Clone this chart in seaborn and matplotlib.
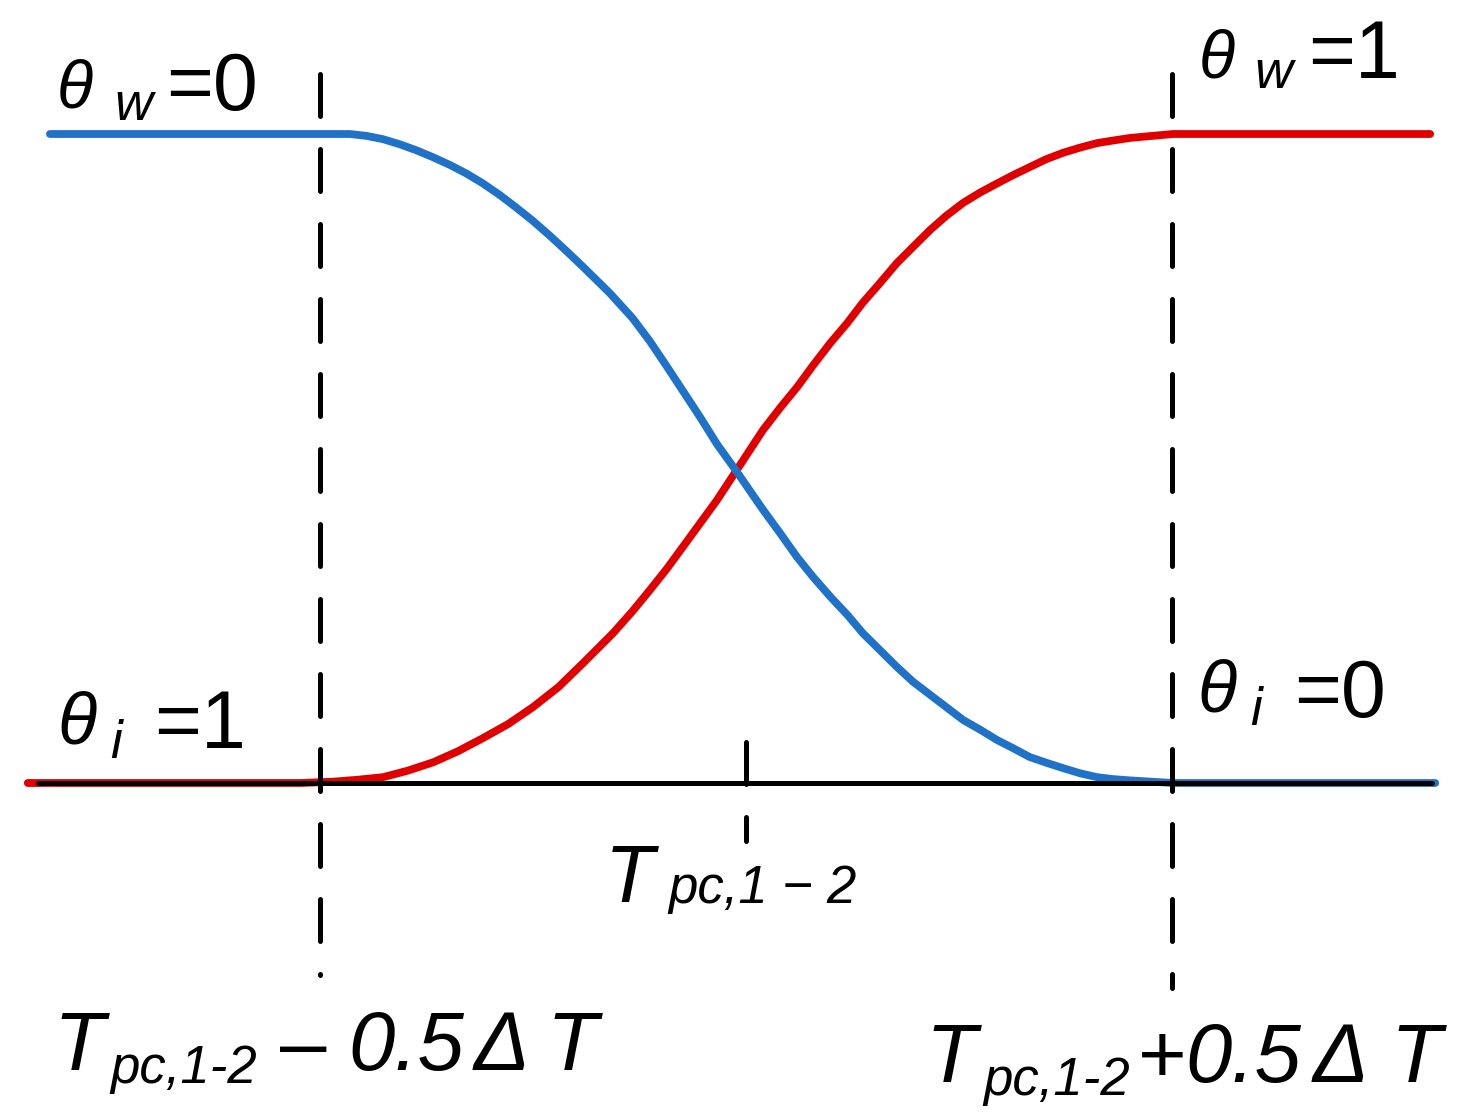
import pandas as pd
import matplotlib.pyplot as plt
import seaborn as sns

sns.set_style("white")
plt.rcParams['font.family'] = ['Liberation Sans', 'DejaVu Sans']
plt.rcParams['text.color'] = 'black'

# x in units of delta T, measured from T_pc,1-2 ; y is the fraction theta
blue_x = [-0.817, -0.500, -0.465, -0.445, -0.426, -0.406, -0.387, -0.367, -0.347, -0.328,
          -0.309, -0.289, -0.270, -0.250, -0.230, -0.211, -0.191, -0.160, -0.133, -0.113,
          -0.093, -0.074, -0.054, -0.034, -0.011, 0.020, 0.040, 0.060, 0.079, 0.099,
          0.119, 0.137, 0.157, 0.177, 0.196, 0.216, 0.236, 0.255, 0.275, 0.295,
          0.313, 0.333, 0.353, 0.372, 0.392, 0.412, 0.431, 0.451, 0.501, 0.809]
blue_y = [1.000, 1.000, 1.000, 0.997, 0.992, 0.984, 0.975, 0.964, 0.952, 0.939,
          0.924, 0.906, 0.887, 0.866, 0.843, 0.820, 0.795, 0.755, 0.716, 0.681,
          0.642, 0.604, 0.564, 0.522, 0.480, 0.421, 0.385, 0.348, 0.317, 0.287,
          0.259, 0.231, 0.205, 0.179, 0.156, 0.136, 0.116, 0.097, 0.082, 0.066,
          0.054, 0.040, 0.031, 0.023, 0.015, 0.009, 0.006, 0.004, 0.000, 0.000]
red_x = [-0.843, -0.523, -0.485, -0.456, -0.426, -0.397, -0.367, -0.338, -0.309, -0.279,
         -0.250, -0.220, -0.191, -0.156, -0.133, -0.113, -0.093, -0.074, -0.054, -0.034,
         -0.015, 0.020, 0.040, 0.060, 0.079, 0.099, 0.119, 0.137, 0.157, 0.177,
         0.196, 0.216, 0.235, 0.255, 0.275, 0.295, 0.314, 0.333, 0.352, 0.372,
         0.392, 0.412, 0.431, 0.451, 0.501, 0.803]
red_y = [0.000, 0.000, 0.002, 0.005, 0.009, 0.019, 0.032, 0.049, 0.069, 0.091,
         0.117, 0.148, 0.185, 0.231, 0.265, 0.297, 0.330, 0.364, 0.400, 0.436,
         0.474, 0.544, 0.578, 0.610, 0.644, 0.678, 0.709, 0.740, 0.770, 0.801,
         0.826, 0.852, 0.874, 0.894, 0.910, 0.924, 0.937, 0.949, 0.961, 0.971,
         0.979, 0.986, 0.990, 0.994, 1.000, 1.000]
base_x = [-0.831, 0.805]
bounds_x = [-0.5, 0.5]
bounds_bottom = [-0.296, -0.316]
center_x = 0.0

W, H = 1459, 1115
fig = plt.figure(figsize=(W / 100, H / 100), dpi=100)
ax = fig.add_axes([0, 0, 1, 1])

red_df = pd.DataFrame({'x': red_x, 'y': red_y})
blue_df = pd.DataFrame({'x': blue_x, 'y': blue_y})
sns.lineplot(data=red_df, x='x', y='y', sort=False, estimator=None, color='#E00000',
             lw=5.6, solid_capstyle='round', solid_joinstyle='round', ax=ax)
sns.lineplot(data=blue_df, x='x', y='y', sort=False, estimator=None, color='#1F72C8',
             lw=5.6, solid_capstyle='round', solid_joinstyle='round', ax=ax)
ax.plot(base_x, [0, 0], color='black', lw=3.6, solid_capstyle='round')

dash = dict(color='black', lw=3.6, dashes=(8.4, 6.6), dash_capstyle='round')
for bx, bb in zip(bounds_x, bounds_bottom):
    ax.plot([bx, bx], [1.092, bb], **dash)
ax.plot([center_x, center_x], [0.063, -0.089], **dash)

ax.set_xlim(-746 / 852, (W - 746) / 852)
ax.set_ylim((783 - H) / 649, 783 / 649)
ax.axis('off')


def put(px, py, s, size, italic=True):
    fig.text(px / W, 1 - py / H, s, fontsize=size, ha='left', va='baseline',
             style='italic' if italic else 'normal', color='black')


# theta labels
put(57, 107, 'θ', 48)
put(114, 120, 'w', 38)
put(166, 110, '=0', 58, italic=False)

put(1199, 77, 'θ', 48)
put(1254, 88, 'w', 38)
put(1308, 78, '=1', 58, italic=False)

put(57, 743, 'θ', 52)
put(110, 758, 'i', 38)
put(154, 748, '=1', 58, italic=False)

put(1197, 712, 'θ', 52)
put(1250, 725, 'i', 38)
put(1294, 717, '=0', 58, italic=False)

# center label
put(605, 902, 'T', 58)
put(668, 903, 'pc,1', 38)
put(782, 903, '−', 38)
put(826, 903, '2', 38)

# lower bound label
put(54, 1070, 'T', 60)
put(110, 1083, 'pc,1-2', 38)
put(280, 1070, '–', 60, italic=False)
put(348, 1070, '0.5', 60)
put(474, 1070, 'Δ', 60)
put(547, 1070, 'T', 60)

# upper bound label
put(926, 1082, 'T', 60)
put(983, 1095, 'pc,1-2', 38)
put(1138, 1082, '+', 60, italic=False)
put(1185, 1082, '0.5', 60)
put(1313, 1082, 'Δ', 60)
put(1391, 1082, 'T', 60)

fig.savefig('out.png', dpi=100)
